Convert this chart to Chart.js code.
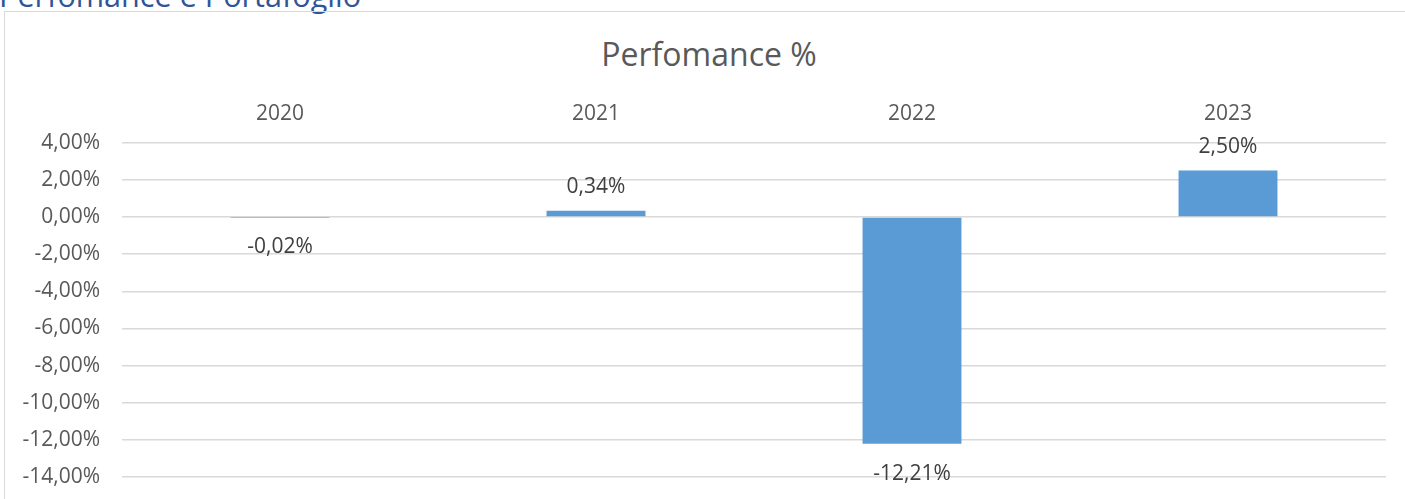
<!DOCTYPE html>
<html><head><meta charset="utf-8">
<script src="https://cdn.jsdelivr.net/npm/chart.js@4/dist/chart.umd.min.js"></script>
<style>
html,body{margin:0;padding:0;background:#fff;overflow:hidden;}
#wrap{position:relative;width:1405px;height:499px;overflow:hidden;}
#hdr{position:absolute;left:-1px;top:-22px;font-family:'Open Sans';font-size:30.6px;line-height:34px;color:#2F5597;white-space:nowrap;}
#box{position:absolute;left:4px;top:11px;width:1440px;height:600px;border:1.5px solid #d9d9d9;box-sizing:border-box;}
#ttl{position:absolute;left:509px;width:400px;text-align:center;top:34px;font-family:'Open Sans';font-size:32px;line-height:40px;color:#595959;white-space:nowrap;}
canvas{position:absolute;left:0;top:0;}
</style></head>
<body>
<div id="wrap">
<div id="hdr">Perfomance e Portafoglio</div>
<div id="box"></div>
<div id="ttl"></div>
<canvas id="c" width="1405" height="499"></canvas>
</div>
<script>
const categories = ['2020', '2021', '2022', '2023'];
const values = [-0.02, 0.34, -12.21, 2.50];
const yMin = -14, yMax = 4, yStep = 2;
const chartTitle = 'Perfomance %';

document.getElementById('ttl').textContent = chartTitle;

function fmt(v){ return v.toFixed(2).replace('.', ',') + '%'; }

const labelPlugin = {
  id: 'valueLabels',
  afterDatasetsDraw(chart){
    const ctx = chart.ctx;
    const meta = chart.getDatasetMeta(0);
    ctx.save();
    ctx.font = '21px "Open Sans"';
    ctx.fillStyle = '#404040';
    ctx.textAlign = 'center';
    ctx.textBaseline = 'alphabetic';
    meta.data.forEach((bar, i) => {
      const v = values[i];
      const half = 7.5;
      let y;
      if (v >= 0) y = bar.y - 25 + half; else y = bar.y + 28.5 + half;
      ctx.fillText(fmt(v), bar.x, y);
    });
    ctx.restore();
  }
};

new Chart(document.getElementById('c'), {
  type: 'bar',
  data: {
    labels: categories,
    datasets: [{
      data: values,
      backgroundColor: '#5B9BD5',
      borderWidth: 0,
      categoryPercentage: 1,
      barPercentage: 0.313
    }]
  },
  options: {
    responsive: false,
    animation: false,
    layout: { padding: { top: 0, left: 0, right: 19, bottom: 22 } },
    plugins: {
      legend: { display: false },
      tooltip: { enabled: false },
      title: { display: false }
    },
    scales: {
      x: {
        position: 'top',
        grid: { display: false, drawTicks: false },
        border: { display: false },
        ticks: { color: '#595959', font: { family: 'Open Sans', size: 21, lineHeight: 1.2 }, padding: 16 },
        afterFit(scale){ scale.height = 142.7; scale.paddingLeft = 0; scale.paddingRight = 0; }
      },
      y: {
        min: yMin, max: yMax,
        grid: { color: '#d9d9d9', lineWidth: 1.5, drawTicks: false },
        border: { display: false },
        ticks: { stepSize: yStep, color: '#595959', font: { family: 'Open Sans', size: 21 }, padding: 22,
          callback: v => fmt(v) },
        afterFit(scale){ scale.width = 122; scale.paddingTop = 0; scale.paddingBottom = 0; }
      }
    }
  },
  plugins: [labelPlugin]
});
</script>
</body></html>
